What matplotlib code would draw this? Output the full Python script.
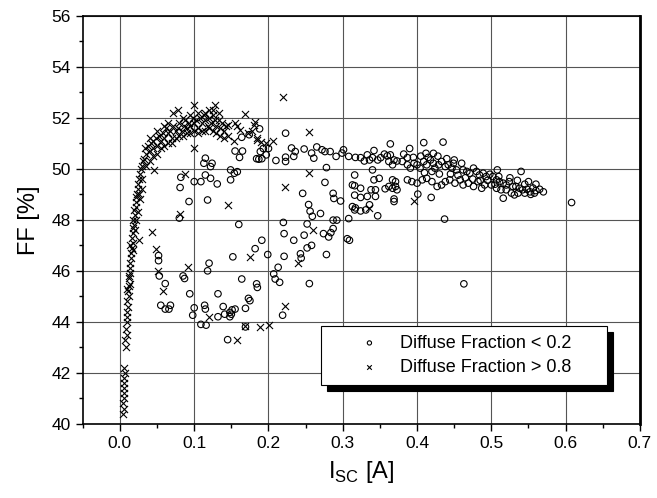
import matplotlib.pyplot as plt
import numpy as np

# Diffuse Fraction < 0.2 (circles): I_SC [A], FF [%]
low_x = [0.052, 0.052, 0.053, 0.061, 0.085, 0.087, 0.094, 0.120, 0.118, 0.132,
         0.055, 0.061, 0.068, 0.066, 0.100, 0.098, 0.114, 0.115, 0.109, 0.116,
         0.139, 0.141, 0.148, 0.150, 0.155, 0.132, 0.145, 0.080, 0.160,
         0.115, 0.124, 0.113, 0.122, 0.149, 0.154, 0.158, 0.149, 0.115, 0.122,
         0.109, 0.100, 0.131, 0.082, 0.081, 0.093, 0.118,
         0.188, 0.223, 0.164, 0.174, 0.155, 0.165, 0.161, 0.189, 0.193, 0.200,
         0.197, 0.187, 0.191, 0.184,
         0.210, 0.223, 0.223, 0.234, 0.231, 0.236, 0.248, 0.258, 0.261, 0.265,
         0.272, 0.276, 0.283, 0.291, 0.299, 0.301, 0.308, 0.317,
         0.278, 0.246, 0.276, 0.287, 0.288, 0.297, 0.316, 0.316, 0.316, 0.317,
         0.254, 0.256, 0.259, 0.270, 0.287, 0.292, 0.308, 0.306, 0.309,
         0.220, 0.221, 0.252, 0.248, 0.287, 0.284, 0.274, 0.281, 0.191, 0.234,
         0.182, 0.252, 0.258, 0.243, 0.244, 0.278, 0.152, 0.199, 0.221, 0.213,
         0.207, 0.209, 0.215, 0.164, 0.184, 0.185, 0.255, 0.173, 0.175, 0.169,
         0.151, 0.148, 0.219, 0.169,
         0.313, 0.324, 0.324, 0.333, 0.344, 0.338, 0.344, 0.349, 0.342, 0.340,
         0.313, 0.316, 0.324, 0.331, 0.336, 0.347, 0.357, 0.362, 0.367, 0.371,
         0.373, 0.367, 0.371, 0.369, 0.369, 0.401, 0.419, 0.437,
         0.324, 0.329, 0.333, 0.336, 0.340, 0.342, 0.347, 0.351, 0.356, 0.360,
         0.364, 0.362, 0.367, 0.369, 0.373, 0.364, 0.409, 0.435, 0.412, 0.422,
         0.382, 0.387, 0.380, 0.387, 0.391, 0.396, 0.400, 0.404, 0.409, 0.413,
         0.418, 0.422, 0.424, 0.429, 0.433, 0.438, 0.442, 0.447, 0.449, 0.453,
         0.460, 0.462, 0.467, 0.471, 0.476, 0.480, 0.484, 0.489, 0.493, 0.498,
         0.502, 0.508, 0.507, 0.511, 0.516, 0.520, 0.524, 0.529, 0.533, 0.538,
         0.542, 0.540,
         0.387, 0.393, 0.400, 0.407, 0.413, 0.420, 0.427, 0.433, 0.438, 0.444,
         0.451, 0.458, 0.462, 0.469, 0.476, 0.482, 0.487, 0.491, 0.500, 0.507,
         0.513, 0.520, 0.527, 0.531, 0.536, 0.516,
         0.548, 0.552, 0.556, 0.560, 0.565, 0.570, 0.553, 0.545, 0.558,
         0.390, 0.395, 0.405, 0.415, 0.428, 0.440, 0.450, 0.410, 0.420, 0.430,
         0.445, 0.455, 0.465, 0.475, 0.485, 0.495, 0.505, 0.510, 0.525, 0.535,
         0.545, 0.550, 0.560,
         0.608, 0.463]
low_y = [46.60, 46.40, 45.80, 45.50, 45.80, 45.70, 45.10, 46.30, 46.00, 45.10,
         44.65, 44.50, 44.65, 44.50, 44.55, 44.26, 44.65, 44.50, 43.90, 43.87,
         44.60, 44.30, 44.20, 44.30, 44.50, 44.20, 43.30, 48.07, 47.82,
         50.42, 50.22, 50.22, 50.09, 49.96, 49.83, 49.89, 49.57, 49.76, 49.63,
         49.50, 49.50, 49.41, 49.67, 49.27, 48.72, 48.78,
         51.57, 51.40, 51.24, 51.34, 50.70, 50.70, 50.45, 50.68, 50.80, 50.80,
         50.55, 50.38, 50.40, 50.40,
         50.33, 50.46, 50.29, 50.49, 50.82, 50.68, 50.78, 50.62, 50.42, 50.86,
         50.75, 50.68, 50.68, 50.49, 50.62, 50.75, 50.49, 50.45,
         50.05, 49.04, 49.47, 49.04, 48.84, 48.74, 49.76, 49.34, 48.97, 48.47,
         48.60, 48.34, 48.14, 48.25, 47.99, 47.99, 48.05, 47.26, 47.20,
         47.90, 47.46, 47.84, 47.40, 47.66, 47.50, 47.46, 47.33, 47.20, 47.20,
         46.87, 46.90, 47.00, 46.67, 46.50, 46.64, 46.55, 46.64, 46.57, 46.14,
         45.88, 45.68, 45.55, 45.68, 45.49, 45.35, 45.50, 44.92, 44.83, 44.53,
         44.47, 44.37, 44.26, 43.80,
         49.37, 49.24, 48.88, 48.92, 48.92, 49.18, 49.18, 49.63, 49.57, 49.96,
         48.52, 48.39, 48.35, 48.39, 48.59, 48.16, 49.22, 49.31, 49.24, 49.31,
         49.18, 49.57, 49.50, 48.82, 48.72, 49.01, 48.88, 48.03,
         50.44, 50.31, 50.55, 50.35, 50.44, 50.72, 50.35, 50.44, 50.58, 50.51,
         50.55, 50.29, 50.16, 50.35, 50.31, 50.98, 51.03, 51.05, 50.61, 50.61,
         50.58, 50.44, 50.29, 50.16, 50.03, 50.22, 50.16, 50.03, 50.29, 50.16,
         50.35, 50.22, 50.03, 50.16, 50.29, 50.09, 50.16, 50.03, 50.22, 49.96,
         50.22, 49.96, 49.90, 49.83, 50.03, 49.90, 49.76, 49.83, 49.70, 49.79,
         49.70, 49.96, 49.57, 49.50, 49.44, 49.37, 49.50, 49.31, 49.31, 49.24,
         49.18, 49.90,
         49.57, 49.50, 49.44, 49.57, 49.63, 49.50, 49.31, 49.37, 49.50, 49.57,
         49.44, 49.57, 49.37, 49.44, 49.31, 49.50, 49.24, 49.37, 49.37, 49.24,
         49.18, 49.18, 49.05, 48.98, 49.05, 48.85,
         49.20, 49.10, 49.25, 49.15, 49.20, 49.10, 49.00, 49.05, 49.05,
         50.80, 50.45, 50.50, 50.45, 50.50, 50.40, 50.35, 49.85, 49.90, 49.80,
         49.80, 49.75, 49.65, 49.60, 49.55, 49.55, 49.40, 49.70, 49.65, 49.55,
         49.40, 49.50, 49.40,
         48.68, 45.49]

# Diffuse Fraction > 0.8 (crosses)
high_x = [0.004, 0.005, 0.004, 0.005, 0.006, 0.005, 0.006, 0.005, 0.007, 0.006,
          0.008, 0.007, 0.009, 0.008, 0.009, 0.010, 0.009, 0.011, 0.010, 0.012,
          0.011, 0.012, 0.013, 0.012, 0.013, 0.014, 0.014, 0.015, 0.015, 0.016,
          0.017, 0.016, 0.018, 0.017, 0.019, 0.018, 0.020, 0.019, 0.021, 0.022,
          0.021, 0.023, 0.024, 0.025, 0.026, 0.027, 0.028, 0.030, 0.031, 0.033,
          0.035, 0.034, 0.038, 0.040, 0.042, 0.045, 0.044, 0.048, 0.050, 0.052,
          0.055, 0.058, 0.060, 0.062, 0.065, 0.068, 0.070, 0.072, 0.075, 0.078,
          0.080, 0.083, 0.086, 0.088, 0.090, 0.093, 0.095, 0.098, 0.100, 0.103,
          0.105, 0.108, 0.110, 0.113, 0.115, 0.118, 0.120, 0.123, 0.125, 0.128,
          0.130, 0.133, 0.135, 0.138, 0.140, 0.143,
          0.072, 0.078, 0.100, 0.128, 0.120, 0.133,
          0.169, 0.146, 0.155, 0.157, 0.162, 0.182, 0.178, 0.153, 0.184, 0.206,
          0.173, 0.180, 0.185, 0.190, 0.197,
          0.254, 0.254, 0.222, 0.146, 0.260, 0.175, 0.240, 0.222, 0.169, 0.189,
          0.201, 0.219, 0.100, 0.046, 0.087, 0.081, 0.043, 0.026, 0.049, 0.051,
          0.092, 0.058, 0.120, 0.157, 0.396, 0.335,
          0.030, 0.035, 0.040, 0.045, 0.050, 0.055, 0.060, 0.065, 0.070, 0.075,
          0.080, 0.085, 0.090, 0.095, 0.100, 0.105, 0.110, 0.115, 0.120, 0.125,
          0.130, 0.135, 0.140, 0.145, 0.040, 0.050, 0.060, 0.065, 0.085, 0.095,
          0.105, 0.115, 0.125,
          0.014, 0.020, 0.024, 0.027, 0.030, 0.022, 0.026, 0.018, 0.012, 0.010]
high_y = [40.40, 40.60, 40.80, 41.00, 41.20, 41.40, 41.60, 41.80, 42.00, 42.20,
          43.00, 43.30, 43.50, 43.70, 44.00, 44.20, 44.40, 44.60, 44.80, 45.00,
          45.20, 45.40, 45.50, 45.70, 45.90, 46.10, 46.30, 46.50, 46.70, 46.90,
          47.10, 47.30, 47.50, 47.70, 47.80, 48.00, 48.20, 48.40, 48.50, 48.70,
          48.90, 49.00, 49.20, 49.40, 49.60, 49.80, 50.00, 50.10, 50.30, 50.40,
          50.60, 50.80, 50.90, 50.70, 51.00, 51.10, 50.80, 51.20, 50.90, 51.30,
          51.10, 51.40, 51.20, 51.60, 51.40, 51.50, 51.20, 51.70, 51.50, 51.60,
          51.80, 51.50, 51.70, 51.90, 51.60, 51.80, 51.70, 52.00, 51.80, 51.90,
          51.60, 52.00, 51.80, 52.10, 51.90, 51.70, 52.00, 51.80, 52.10, 51.90,
          51.70, 51.90, 51.60, 51.80, 51.50, 51.70,
          52.20, 52.30, 52.50, 52.50, 52.30, 52.20,
          52.16, 51.74, 51.80, 51.67, 51.54, 51.84, 51.47, 51.10, 51.20, 51.10,
          51.40, 51.73, 51.14, 51.07, 51.00,
          51.45, 49.83, 49.28, 48.60, 47.60, 46.54, 46.30, 44.63, 43.84, 43.80,
          43.87, 52.82, 50.81, 49.96, 49.80, 48.24, 47.54, 47.20, 46.85, 46.00,
          46.16, 45.20, 44.20, 43.30, 48.75, 48.48,
          49.60, 50.10, 50.30, 50.50, 50.60, 50.80, 50.90, 51.00, 51.00, 51.20,
          51.30, 51.30, 51.40, 51.40, 51.50, 51.40, 51.50, 51.50, 51.60, 51.50,
          51.40, 51.30, 51.20, 51.30, 51.20, 51.50, 51.70, 51.80, 52.00, 52.10,
          52.20, 52.20, 52.30,
          47.00, 47.60, 48.30, 48.80, 49.20, 48.00, 49.00, 46.80, 45.80, 45.30]

x_ticks = [0.0, 0.1, 0.2, 0.3, 0.4, 0.5, 0.6, 0.7]
y_ticks = [40, 42, 44, 46, 48, 50, 52, 54, 56]

plt.rcParams["font.family"] = ["Liberation Sans", "DejaVu Sans"]
fig = plt.figure(figsize=(6.57, 4.98), dpi=100)
ax = fig.add_axes([0.126, 0.149, 0.848, 0.819])

ax.scatter(low_x, low_y, s=22, marker="o", facecolors="none",
           edgecolors="black", linewidths=0.8, label="Diffuse Fraction < 0.2", zorder=3)
ax.scatter(high_x, high_y, s=26, marker="x", color="black",
           linewidths=0.8, label="Diffuse Fraction > 0.8", zorder=3)

ax.set_xlim(-0.05, 0.7)
ax.set_ylim(40, 56)
ax.set_xticks(x_ticks)
ax.set_xticks(np.arange(-0.05, 0.71, 0.05), minor=True)
ax.set_yticks(y_ticks)
ax.set_yticks(np.arange(40, 57, 1), minor=True)
ax.grid(True, which="major", color="#555555", linewidth=0.8)
ax.set_axisbelow(True)
ax.tick_params(which="both", direction="out", labelsize=12.5, width=1)
ax.tick_params(which="major", length=5)
ax.tick_params(which="minor", length=3)
for s in ax.spines.values():
    s.set_linewidth(1.2)
ax.spines["right"].set_linewidth(2)

ax.set_xlabel(r"I$_{\mathregular{SC}}$ [A]", fontsize=17, labelpad=6)
ax.set_ylabel("FF [%]", fontsize=17, labelpad=8)

leg = ax.legend(loc="center", bbox_to_anchor=(0.427, 0.091, 0.514, 0.154),
                mode="expand", borderaxespad=0, fontsize=13, fancybox=False,
                framealpha=1, edgecolor="black", markerscale=0.65,
                handletextpad=-0.5, borderpad=0.5, labelspacing=0.4,
                handlelength=4.4,
                shadow={"ox": 4.5, "oy": -4.5, "facecolor": "black",
                        "edgecolor": "black", "alpha": 1})
leg.get_frame().set_linewidth(0.8)

fig.savefig("out.png", dpi=100)
